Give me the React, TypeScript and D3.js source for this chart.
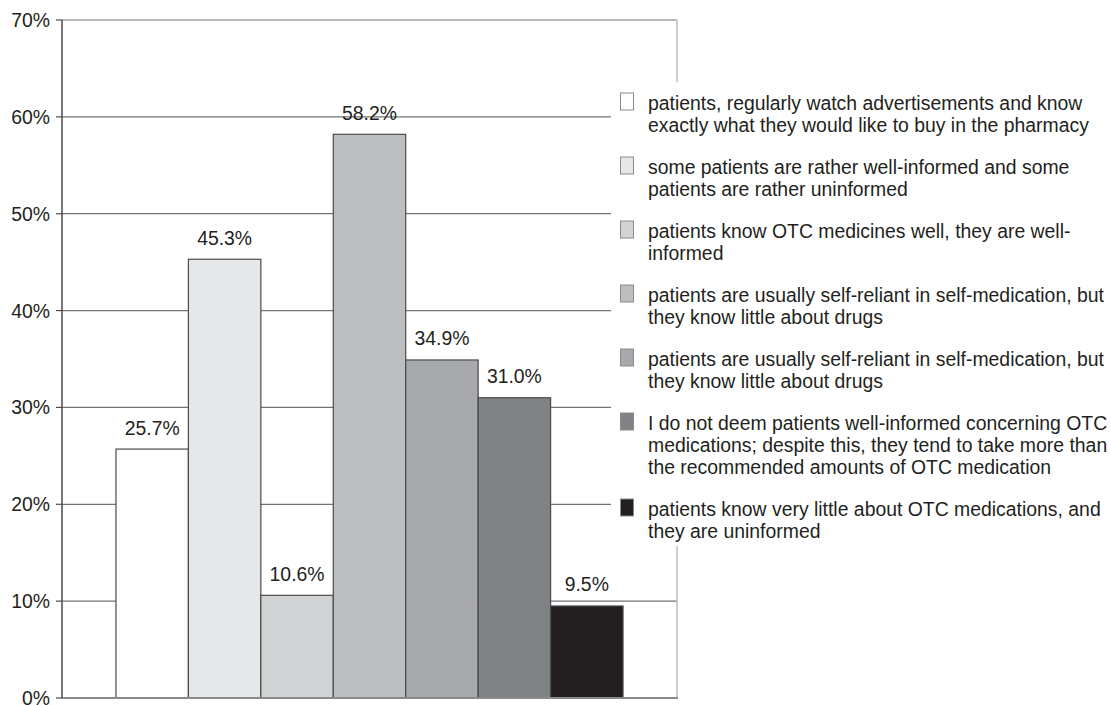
import React from "react";
import * as d3 from "d3";

// Share of respondents for each opinion about patients' OTC knowledge
const seriesValues: number[] = [25.7, 45.3, 10.6, 58.2, 34.9, 31.0, 9.5];
const seriesColors: string[] = ["#ffffff", "#e6e7e8", "#d1d3d4", "#bcbec0", "#a7a9ac", "#808285", "#231f20"];
const legendLines: string[][] = [
  ["patients, regularly watch advertisements and know", "exactly what they would like to buy in the pharmacy"],
  ["some patients are rather well-informed and some", "patients are rather uninformed"],
  ["patients know OTC medicines well, they are well-", "informed"],
  ["patients are usually self-reliant in self-medication, but", "they know little about drugs"],
  ["patients are usually self-reliant in self-medication, but", "they know little about drugs"],
  [
    "I do not deem patients well-informed concerning OTC",
    "medications; despite this, they tend to take more than",
    "the recommended amounts of OTC medication",
  ],
  ["patients know very little about OTC medications, and", "they are uninformed"],
];
const yTicks: number[] = [0, 10, 20, 30, 40, 50, 60, 70];

const W = 1111;
const H = 705;
const plot = { left: 62, right: 677, top: 20, bottom: 698 };
const FONT = "'Liberation Sans', Arial, sans-serif";
const TEXT = "#231f20";
const FS = 19.4;

export default function App() {
  const y = d3.scaleLinear().domain([0, 70]).range([plot.bottom, plot.top]);
  const x = d3
    .scaleBand<number>()
    .domain(d3.range(seriesValues.length))
    .range([plot.left, plot.right])
    .paddingInner(0)
    .paddingOuter(0.745);

  // legend geometry
  const legX = 611;
  const legTop = 82;
  const legBottom = 546;
  const firstBaseline = 110;
  const lineH = 22;
  const itemGap = 20;
  const baselines: number[] = [];
  let cur = firstBaseline;
  legendLines.forEach((lines) => {
    baselines.push(cur);
    cur += lines.length * lineH + itemGap;
  });

  return (
    <svg
      width={W}
      height={H}
      style={{ position: "absolute", left: 0, top: 0, background: "#fff" }}
      fontFamily={FONT}
    >
      <rect x={0} y={0} width={W} height={H} fill="#fff" />

      {/* horizontal gridlines */}
      {yTicks.filter((t) => t > 0).map((t) => (
        <line
          key={`g${t}`}
          x1={plot.left}
          x2={plot.right}
          y1={y(t)}
          y2={y(t)}
          stroke="#737375"
          strokeWidth={1.2}
        />
      ))}

      {/* right frame edge */}
      <line x1={plot.right} x2={plot.right} y1={plot.top} y2={plot.bottom} stroke="#bdbdbd" strokeWidth={1.5} />

      {/* bars */}
      {seriesValues.map((v, i) => (
        <rect
          key={`b${i}`}
          x={x(i)!}
          y={y(v)}
          width={x.bandwidth()}
          height={y(0) - y(v)}
          fill={seriesColors[i]}
          stroke="#4a4a4c"
          strokeWidth={1.2}
        />
      ))}

      {/* value labels */}
      {seriesValues.map((v, i) => (
        <text
          key={`l${i}`}
          x={x(i)! + x.bandwidth() / 2}
          y={y(v) - 14.5}
          textAnchor="middle"
          fontSize={FS}
          fill={TEXT}
        >
          {`${v.toFixed(1)}%`}
        </text>
      ))}

      {/* baseline */}
      <line x1={plot.left} x2={plot.right + 1} y1={plot.bottom} y2={plot.bottom} stroke="#8a8a8c" strokeWidth={2} />

      {/* y axis */}
      <line x1={plot.left} x2={plot.left} y1={plot.top} y2={plot.bottom} stroke="#4a4a4c" strokeWidth={1.5} />
      {yTicks.map((t) => (
        <g key={`t${t}`}>
          <line x1={plot.left - 6} x2={plot.left} y1={y(t)} y2={y(t)} stroke="#4a4a4c" strokeWidth={1.2} />
          <text x={50} y={y(t) + 7} textAnchor="end" fontSize={FS} fill={TEXT}>
            {`${t}%`}
          </text>
        </g>
      ))}

      {/* legend */}
      <rect x={legX} y={legTop} width={W - legX} height={legBottom - legTop} fill="#fff" />
      {legendLines.map((lines, i) => (
        <g key={`lg${i}`}>
          <rect
            x={620.5}
            y={baselines[i] - 17}
            width={13}
            height={17}
            fill={seriesColors[i]}
            stroke="#8a8a8c"
            strokeWidth={1}
          />
          <text x={648} y={baselines[i]} fontSize={FS} fill={TEXT}>
            {lines.map((ln, j) => (
              <tspan key={j} x={648} y={baselines[i] + j * lineH}>
                {ln}
              </tspan>
            ))}
          </text>
        </g>
      ))}
    </svg>
  );
}
